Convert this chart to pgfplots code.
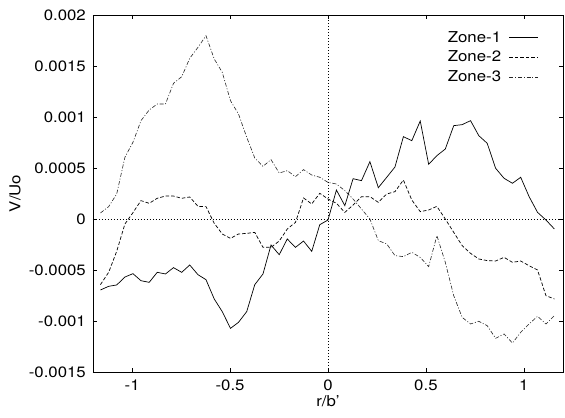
\documentclass[border=0pt]{standalone}
\usepackage{fontspec}
\setmainfont{TeX Gyre Heros}[FakeStretch=1.12]
\usepackage{pgfplots}
\pgfplotsset{compat=1.18}
\usepackage{pgfplotstable}

\pgfplotstableread{
x z1 z2 z3
-1.162 -0.000696 -0.000644 0.000059
-1.120 -0.000660 -0.000523 0.000121
-1.079 -0.000647 -0.000317 0.000245
-1.037 -0.000569 -0.000049 0.000605
-0.996 -0.000536 0.000062 0.000752
-0.955 -0.000605 0.000180 0.000964
-0.913 -0.000621 0.000154 0.001069
-0.872 -0.000523 0.000203 0.001127
-0.830 -0.000539 0.000225 0.001127
-0.789 -0.000477 0.000225 0.001330
-0.747 -0.000523 0.000203 0.001395
-0.706 -0.000451 0.000216 0.001575
-0.664 -0.000546 0.000124 0.001683
-0.623 -0.000595 0.000121 0.001797
-0.581 -0.000784 -0.000042 0.001569
-0.540 -0.000908 -0.000147 0.001438
-0.498 -0.001072 -0.000190 0.001160
-0.457 -0.001013 -0.000147 0.001029
-0.415 -0.000908 -0.000141 0.000801
-0.374 -0.000644 -0.000131 0.000598
-0.332 -0.000539 -0.000278 0.000516
-0.291 -0.000255 -0.000278 0.000582
-0.249 -0.000350 -0.000216 0.000451
-0.208 -0.000196 -0.000098 0.000474
-0.166 -0.000278 -0.000033 0.000415
-0.125 -0.000216 0.000206 0.000484
-0.083 -0.000317 0.000147 0.000431
-0.042 -0.000056 0.000252 0.000409
0.000 -0.000010 0.000196 0.000359
0.043 0.000284 0.000154 0.000343
0.086 0.000131 0.000065 0.000278
0.128 0.000395 0.000137 0.000196
0.171 0.000376 0.000219 0.000098
0.214 0.000562 0.000219 0.000000
0.257 0.000307 0.000163 -0.000212
0.300 0.000409 0.000245 -0.000245
0.342 0.000510 0.000268 -0.000359
0.385 0.000807 0.000382 -0.000369
0.428 0.000768 0.000186 -0.000327
0.471 0.000961 0.000072 -0.000376
0.514 0.000536 0.000088 -0.000467
0.556 0.000621 0.000124 -0.000163
0.599 0.000686 0.000000 -0.000425
0.642 0.000915 -0.000131 -0.000752
0.685 0.000925 -0.000261 -0.000964
0.728 0.000964 -0.000337 -0.001029
0.770 0.000817 -0.000392 -0.001003
0.813 0.000742 -0.000408 -0.001046
0.856 0.000497 -0.000412 -0.001170
0.899 0.000399 -0.000376 -0.001127
0.942 0.000350 -0.000425 -0.001216
0.984 0.000409 -0.000412 -0.001111
1.027 0.000219 -0.000458 -0.001029
1.070 0.000065 -0.000500 -0.000954
1.113 -0.000010 -0.000752 -0.001029
1.156 -0.000098 -0.000784 -0.000948
}\data

\begin{document}
\fontsize{15}{18}\selectfont
\begin{tikzpicture}
\begin{axis}[
  scale only axis, width=470pt, height=357pt,
  xmin=-1.2, xmax=1.2, ymin=-0.0015, ymax=0.002,
  scaled y ticks=false, scaled x ticks=false,
  xtick={-1,-0.5,0,0.5,1}, xticklabels={-1,-0.5,0,0.5,1},
  ytick={-0.0015,-0.001,-0.0005,0,0.0005,0.001,0.0015,0.002},
  yticklabels={-0.0015,-0.001,-0.0005,0,0.0005,0.001,0.0015,0.002},
  tick align=inside, major tick length=4pt,
  tick style={line width=0.6pt, black},
  axis line style={line width=0.9pt},
  ticklabel style={font=\fontsize{15}{18}\selectfont},
  xticklabel style={yshift=-3pt},
  yticklabel style={xshift=-2pt},
  xlabel={r/b'}, ylabel={V/Uo},
  label style={font=\fontsize{15}{18}\selectfont},
  xlabel style={yshift=6pt},
  ylabel style={yshift=-2pt},
  legend plot pos=right,
  legend cell align=right,
  legend image code/.code={\path (0pt,0pt); \draw[#1] (6pt,0pt) -- (35pt,0pt);},
  legend style={draw=none, fill=none, at={(1,1)}, anchor=north east,
    xshift=-23pt, yshift=-13pt, font=\fontsize{15}{18}\selectfont,
    row sep=2.5pt, inner sep=1pt},
]
\draw[black, line width=0.6pt, dash pattern=on 0.8pt off 2.2pt] (axis cs:0,-0.0015) -- (axis cs:0,0.002);
\draw[black, line width=0.6pt, dash pattern=on 0.8pt off 2.2pt] (axis cs:-1.2,0) -- (axis cs:1.2,0);
\addplot[black, line width=0.7pt] table[x=x, y=z1] {\data};
\addlegendentry{Zone-1}
\addplot[black, line width=0.7pt, dash pattern=on 3.5pt off 2pt] table[x=x, y=z2] {\data};
\addlegendentry{Zone-2}
\addplot[black!85, line width=0.6pt, dash pattern=on 4pt off 1.8pt on 1pt off 1.8pt] table[x=x, y=z3] {\data};
\addlegendentry{Zone-3}
\end{axis}
\pgfresetboundingbox
\path ([xshift=-93pt,yshift=-46pt]current axis.south west) rectangle ([xshift=2pt,yshift=15pt]current axis.north east);
\end{tikzpicture}
\end{document}
